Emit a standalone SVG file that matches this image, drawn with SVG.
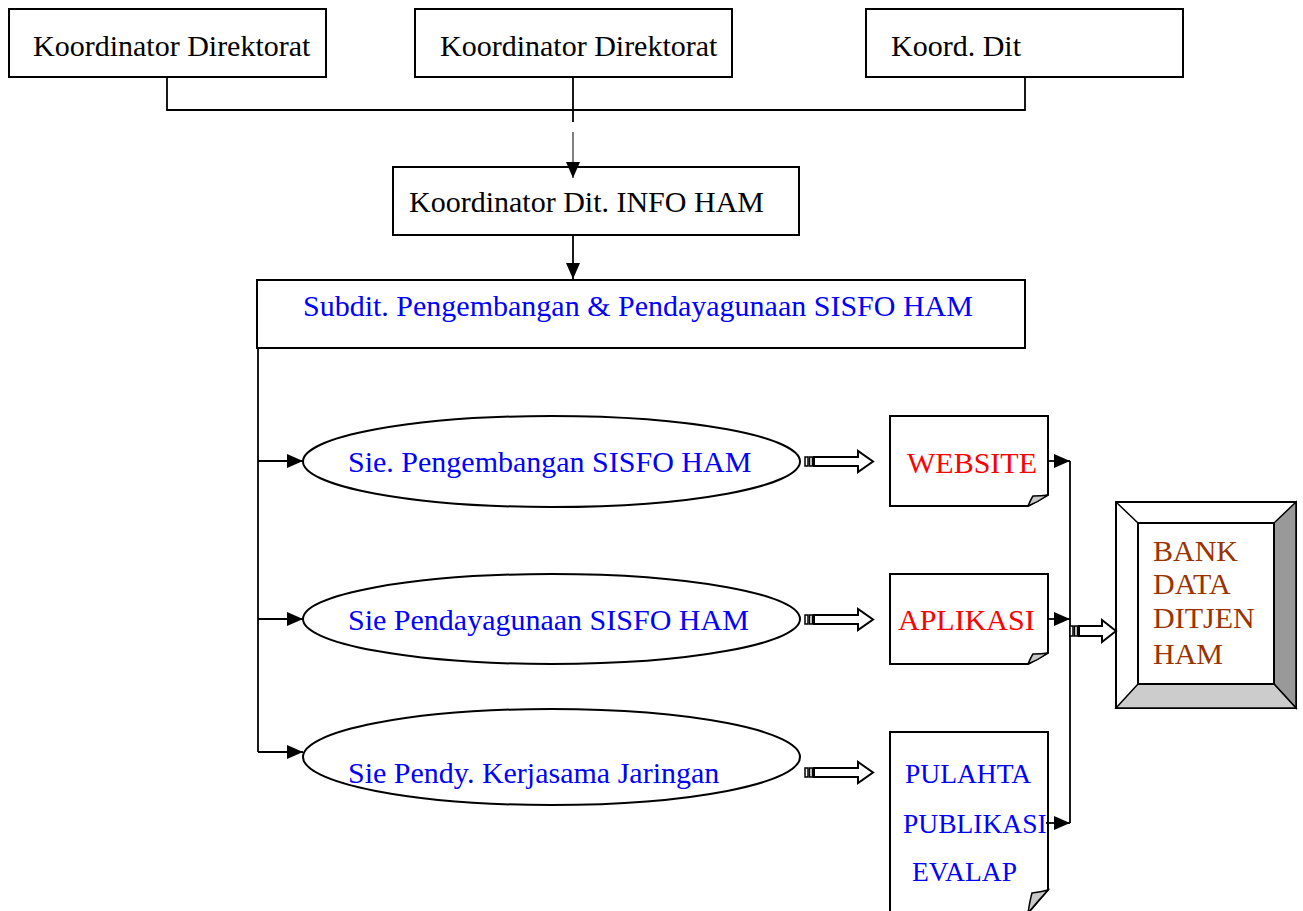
<svg xmlns="http://www.w3.org/2000/svg" width="1303" height="911" viewBox="0 0 1303 911">
<style>
text{font-family:"Liberation Serif","Times New Roman",serif;font-size:30px}
.box{fill:#fff;stroke:#000;stroke-width:2}
.ln{fill:none;stroke:#000;stroke-width:1.8}
.blue{fill:#0000ff}
.red{fill:#ff0000}
.brown{fill:#993300}
.ba{fill:#fff;stroke:#000;stroke-width:2}
.bar{fill:#fff;stroke:#000;stroke-width:1.5}
.curl{fill:#c8c8c8;stroke:#000;stroke-width:1.5}
.sm{font-size:27.5px}
</style>
<defs>
<marker id="ah" viewBox="0 0 16 14" refX="16" refY="7" markerWidth="16" markerHeight="14" markerUnits="userSpaceOnUse" orient="auto">
<path d="M0,0 L16,7 L0,14 Z" fill="#000"/>
</marker>
</defs>

<g id="n-koord1"><rect class="box" x="9" y="9" width="317" height="68"/><text x="33" y="56">Koordinator Direktorat</text></g>
<g id="n-koord2"><rect class="box" x="415" y="9" width="317" height="68"/><text x="440" y="56">Koordinator Direktorat</text></g>
<g id="n-koord3"><rect class="box" x="866" y="9" width="317" height="68"/><text x="891" y="56">Koord. Dit</text></g>
<g id="n-info"><rect class="box" x="393" y="167" width="406" height="68"/><text x="409" y="212">Koordinator Dit. INFO HAM</text></g>
<g id="n-subdit"><rect class="box" x="257" y="280" width="768" height="68"/><text class="blue" x="303" y="316">Subdit. Pengembangan &amp; Pendayagunaan SISFO HAM</text></g>

<g id="n-sie1"><ellipse class="box" cx="551.5" cy="461.5" rx="248.5" ry="45.5"/><text class="blue" x="348" y="472">Sie. Pengembangan SISFO HAM</text></g>
<g id="n-sie2"><ellipse class="box" cx="551.5" cy="619" rx="248.5" ry="45"/><text class="blue" x="348" y="630">Sie Pendayagunaan SISFO HAM</text></g>
<g id="n-sie3"><ellipse class="box" cx="551.5" cy="757" rx="248.5" ry="48"/><text class="blue" x="348" y="783">Sie Pendy. Kerjasama Jaringan</text></g>

<g id="n-website"><path class="box" d="M890,416 H1048 V495 L1028,506 H890 Z"/><path class="curl" d="M1028,506 Q1031,499 1033,496 Q1042,496 1048,495 Q1038,502 1028,506 Z"/><text class="red" x="907" y="473">WEBSITE</text></g>
<g id="n-aplikasi"><path class="box" d="M890,574 H1048 V653 L1028,664 H890 Z"/><path class="curl" d="M1028,664 Q1031,657 1033,654 Q1042,654 1048,653 Q1038,660 1028,664 Z"/><text class="red" x="898" y="630">APLIKASI</text></g>
<g id="n-pulahta"><path class="box" d="M890,732 H1048 V890 L1028,913 H890 Z"/><path class="curl" d="M1028,913 Q1030,900 1032,893 Q1041,892 1048,890 Q1037,902 1028,913 Z"/><text class="blue sm" x="905" y="783">PULAHTA</text><text class="blue sm" x="903" y="833">PUBLIKASI</text><text class="blue sm" x="912" y="881">EVALAP</text></g>

<g id="n-bank">
<rect x="1116" y="502" width="180" height="206" fill="#fff" stroke="#000" stroke-width="2"/>
<polygon points="1274,523 1296,502 1296,708 1274,684" fill="#999999" stroke="#000" stroke-width="1.5"/>
<polygon points="1138,684 1274,684 1296,708 1116,708" fill="#cccccc" stroke="#000" stroke-width="1.5"/>
<line x1="1116" y1="502" x2="1138" y2="523" stroke="#000" stroke-width="1.5"/>
<rect x="1138" y="523" width="136" height="161" fill="#fff" stroke="#000" stroke-width="2"/>
<text class="brown" x="1153" y="561">BANK</text><text class="brown" x="1153" y="594">DATA</text><text class="brown" x="1153" y="628">DITJEN</text><text class="brown" x="1153" y="664">HAM</text>
</g>

<g id="connectors">
<path class="ln" d="M167,77 V110 H1025 V77"/>
<path class="ln" d="M573,77 V122"/>
<path fill="none" stroke="#000" stroke-width="1" d="M573,132 V178" marker-end="url(#ah)"/>
<path class="ln" d="M573,235 V279" marker-end="url(#ah)"/>
<path class="ln" d="M258,348 V752"/>
<path class="ln" d="M258,461 H303" marker-end="url(#ah)"/>
<path class="ln" d="M258,619 H303" marker-end="url(#ah)"/>
<path class="ln" d="M258,752 H303" marker-end="url(#ah)"/>
<path class="ln" d="M1070,461 V823"/>
<path class="ln" d="M1048,461 H1070" marker-end="url(#ah)"/>
<path class="ln" d="M1048,619 H1070" marker-end="url(#ah)"/>
<path class="ln" d="M1046,823 H1070" marker-end="url(#ah)"/>
<g id="block-arrow-1"><rect class="bar" x="805" y="457" width="3" height="9"/><rect class="bar" x="809.5" y="457" width="3" height="9"/><path class="ba" d="M814,457 H858 V451 L873,461.5 L858,472 V466 H814 Z"/></g>
<g id="block-arrow-2"><rect class="bar" x="805" y="615" width="3" height="9"/><rect class="bar" x="809.5" y="615" width="3" height="9"/><path class="ba" d="M814,615 H858 V609 L873,619.5 L858,630 V624 H814 Z"/></g>
<g id="block-arrow-3"><rect class="bar" x="805" y="768" width="3" height="9"/><rect class="bar" x="809.5" y="768" width="3" height="9"/><path class="ba" d="M814,768 H858 V762 L873,772.5 L858,783 V777 H814 Z"/></g>
<g id="block-arrow-4"><rect class="bar" x="1070" y="626" width="3" height="10"/><rect class="bar" x="1074.5" y="626" width="3" height="10"/><path class="ba" d="M1079,626 H1102 V620 L1116,631 L1102,642 V636 H1079 Z"/></g>
</g>
</svg>
